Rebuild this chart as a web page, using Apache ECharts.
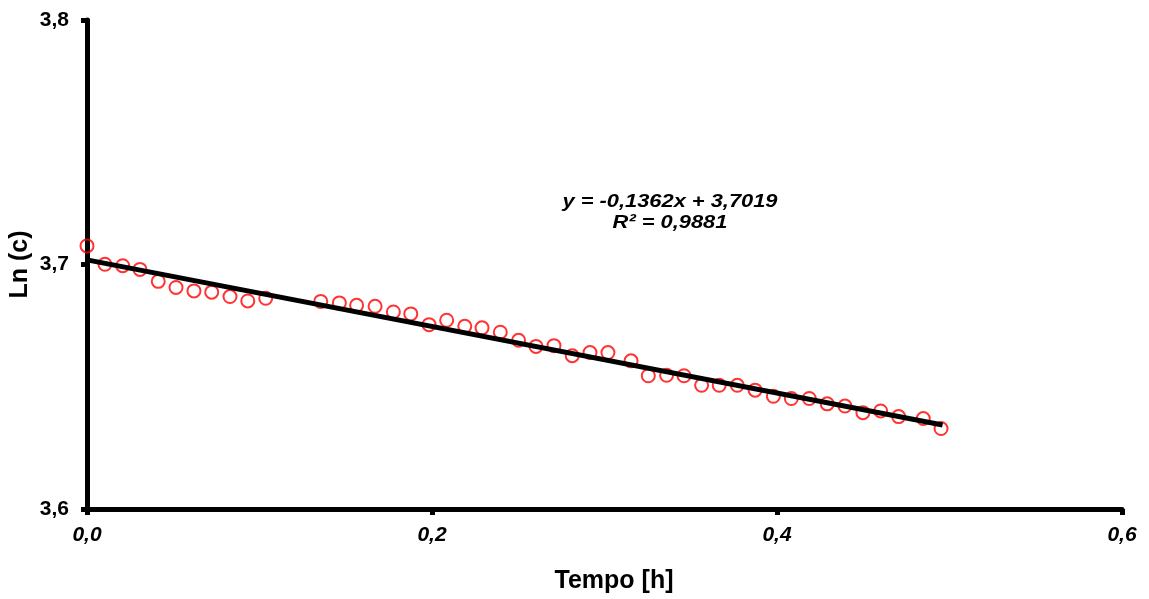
<!DOCTYPE html>
<html><head><meta charset="utf-8">
<script src="https://cdn.jsdelivr.net/npm/echarts@6/dist/echarts.min.js"></script>
<style>html,body{margin:0;padding:0;background:#fff}#c{width:1149px;height:599px}</style>
</head><body><div id="c"></div>
<script>
const timeH = [0.0000,0.0104,0.0207,0.0307,0.0413,0.0516,0.0620,0.0723,0.0829,0.0932,0.1036,
  0.1355,0.1463,0.1563,0.1670,0.1776,0.1877,0.1983,0.2085,0.2190,0.2290,0.2396,0.2502,0.2603,0.2707,0.2813,0.2916,0.3020,0.3154,
  0.3254,0.3360,0.3461,0.3563,0.3665,0.3770,0.3873,0.3979,0.4083,0.4187,0.4291,0.4394,0.4498,0.4601,0.4705,0.4848,0.4951];
const lnC = [3.7076,3.7001,3.6995,3.6980,3.6931,3.6906,3.6892,3.6887,3.6869,3.6851,3.6862,
  3.6849,3.6843,3.6833,3.6829,3.6806,3.6798,3.6754,3.6772,3.6747,3.6741,3.6723,3.6690,3.6665,3.6668,3.6627,3.6640,3.6640,3.6606,
  3.6545,3.6547,3.6545,3.6506,3.6506,3.6506,3.6486,3.6461,3.6452,3.6452,3.6430,3.6421,3.6394,3.6401,3.6378,3.6370,3.6329];
const fitSlope = -0.1362, fitIntercept = 3.7019;
const fitRange = [0, 0.496];
const xTicks = {min: 0, max: 0.6, interval: 0.2};
const yTicks = {min: 3.6, max: 3.8, interval: 0.1};
const eqText = ['y = -0,1362x + 3,7019', 'R² = 0,9881'];

const fmt = v => v.toFixed(1).replace('.', ',');
const FONT = '"Liberation Sans", Arial, sans-serif';
const chart = echarts.init(document.getElementById('c'));
chart.setOption({
  animation: false,
  grid: {left: 87, right: 27, top: 20, bottom: 90, containLabel: false, outerBoundsMode: 'none'},
  xAxis: {
    type: 'value', min: xTicks.min, max: xTicks.max, interval: xTicks.interval,
    name: 'Tempo [h]', nameLocation: 'middle', nameGap: 60, nameMoveOverlap: false,
    nameTextStyle: {fontFamily: FONT, fontWeight: 'bold', fontSize: 25, color: '#000', padding: [0, 0, 0, 19]},
    axisLine: {lineStyle: {color: '#000', width: 5}},
    axisTick: {show: true, length: 6, lineStyle: {color: '#000', width: 5}},
    axisLabel: {formatter: fmt, fontFamily: FONT, fontWeight: 'bold', fontStyle: 'italic', fontSize: 21, color: '#000', margin: 16},
    splitLine: {show: false}
  },
  yAxis: {
    type: 'value', min: yTicks.min, max: yTicks.max, interval: yTicks.interval,
    name: 'Ln (c)', nameLocation: 'middle', nameGap: 54, nameMoveOverlap: false,
    nameTextStyle: {fontFamily: FONT, fontWeight: 'bold', fontSize: 25, color: '#000'},
    axisLine: {show: true, lineStyle: {color: '#000', width: 5}},
    axisTick: {show: true, length: 6, lineStyle: {color: '#000', width: 5}},
    axisLabel: {formatter: fmt, fontFamily: FONT, fontWeight: 'bold', fontSize: 21, color: '#000', margin: 18},
    splitLine: {show: false}
  },
  series: [
    {
      type: 'scatter', data: timeH.map((t, i) => [t, lnC[i]]),
      symbol: 'circle', symbolSize: 13,
      itemStyle: {color: 'rgba(255,255,255,0)', borderColor: '#ff0000', borderWidth: 2},
      z: 2
    },
    {
      type: 'line', data: fitRange.map(t => [t, fitIntercept + fitSlope * t]),
      symbol: 'none', lineStyle: {color: '#000', width: 5}, z: 3
    }
  ],
  graphic: [
    {type: 'text', x: 670, y: 212, scaleX: 1.15,
      style: {text: eqText.join('\n'), align: 'center', verticalAlign: 'middle',
        font: 'italic bold 19px ' + FONT, fill: '#000', lineHeight: 21}}
  ]
});
</script></body></html>
